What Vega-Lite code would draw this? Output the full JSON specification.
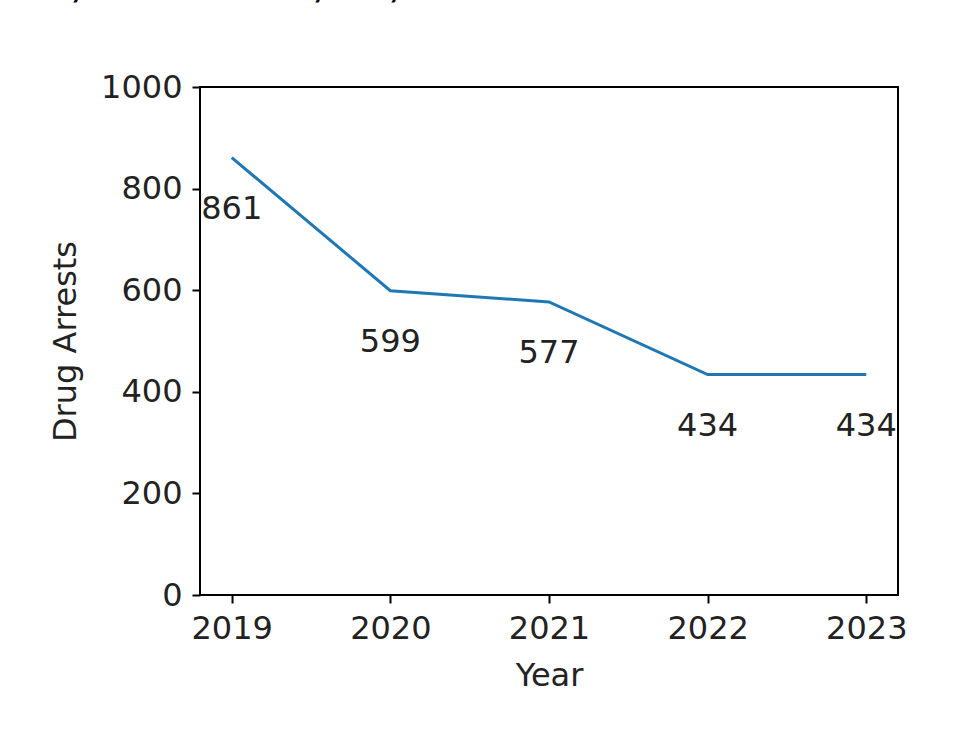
{
  "$schema": "https://vega.github.io/schema/vega-lite/v6.json",
  "autosize": {"type": "none"},
  "width": 698,
  "height": 508,
  "padding": {"left": 200, "top": 87, "right": 62, "bottom": 155},
  "background": "white",
  "title": {
    "text": "Drug Arrests, New Bedford, MA, 2019-2023",
    "anchor": "start",
    "frame": "group",
    "orient": "top",
    "offset": 66,
    "dx": -348,
    "font": "Liberation Sans",
    "fontWeight": "bold",
    "fontSize": 36,
    "color": "black"
  },
  "config": {
    "view": {"stroke": "black", "strokeWidth": 2},
    "axis": {
      "domain": false,
      "grid": false,
      "tickColor": "black",
      "tickWidth": 2,
      "tickSize": 8,
      "labelFont": "DejaVu Sans",
      "labelFontSize": 32,
      "labelColor": "#222",
      "titleFont": "DejaVu Sans",
      "titleFontSize": 32,
      "titleFontWeight": "normal",
      "titleColor": "#222"
    }
  },
  "data": {
    "values": [
      {"Year": 2019, "Arrests": 861},
      {"Year": 2020, "Arrests": 599},
      {"Year": 2021, "Arrests": 577},
      {"Year": 2022, "Arrests": 434},
      {"Year": 2023, "Arrests": 434}
    ]
  },
  "encoding": {
    "x": {
      "field": "Year",
      "type": "quantitative",
      "scale": {"domain": [2018.8, 2023.2], "nice": false, "zero": false},
      "axis": {"values": [2019, 2020, 2021, 2022, 2023], "format": "d", "title": "Year", "labelPadding": 10, "titlePadding": 16, "labelFlush": false, "labelOverlap": false}
    },
    "y": {
      "field": "Arrests",
      "type": "quantitative",
      "scale": {"domain": [0, 1000], "nice": false},
      "axis": {"values": [0, 200, 400, 600, 800, 1000], "format": "d", "title": "Drug Arrests", "labelPadding": 10, "titlePadding": 18, "labelFlush": false, "labelOverlap": false}
    }
  },
  "layer": [
    {"mark": {"type": "line", "color": "#1f77b4", "strokeWidth": 3}},
    {
      "mark": {"type": "text", "dy": 51, "align": "center", "baseline": "middle", "font": "DejaVu Sans", "fontSize": 32, "color": "#222"},
      "encoding": {"text": {"field": "Arrests", "type": "quantitative"}}
    }
  ]
}
